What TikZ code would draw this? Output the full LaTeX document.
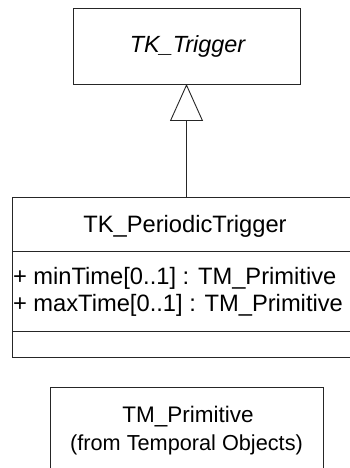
\documentclass[tikz,border=0pt]{standalone}
\usepackage{fontspec}
\setmainfont{Liberation Sans}
\usetikzlibrary{arrows.meta}
\begin{document}
\begin{tikzpicture}[x=1pt,y=-1pt,
  umlbox/.style={draw=black!85,line width=0.9pt,inner sep=0pt,outer sep=0pt},
  txt/.style={inner sep=0pt,outer sep=0pt},
  big/.style={font=\fontsize{23.7}{28}\selectfont},
  generalization/.style={draw=black!85,line width=0.9pt,
    -{Triangle[open,length=37pt,width=33pt,line width=0.9pt]}}]
\useasboundingbox (0,0) rectangle (350,468);
\clip (0,0) rectangle (350,468);
\fill[white] (0,0) rectangle (350,468);

% abstract parent class
\node[umlbox,minimum width=227pt,minimum height=76pt] (trigger) at (186.5,46) {};
\node[txt,font=\fontsize{23.4}{28}\selectfont\itshape] (triggername) at (187.5,46) {TK\_Trigger};

% subclass with three compartments
\node[umlbox,minimum width=349pt,minimum height=54pt] (periodic) at (186.5,224) {};
\node[txt,big] (periodicname) at (185,226) {TK\_PeriodicTrigger};
\node[umlbox,minimum width=349pt,minimum height=80pt,anchor=north] (attrs) at (periodic.south) {};
\node[txt,big,anchor=west] (attr1) at (13,278) {+ minTime[0..1] : TM\_Primitive};
\node[txt,big,anchor=west] (attr2) at (13,305) {+ maxTime[0..1] : TM\_Primitive};
\node[umlbox,minimum width=349pt,minimum height=26pt,anchor=north] (ops) at (attrs.south) {};

% referenced type
\node[umlbox,minimum width=273pt,minimum height=110pt,anchor=north] (primitive) at (186.5,387) {};
\node[txt,font=\fontsize{22.5}{26}\selectfont] (primname) at (188,417) {TM\_Primitive};
\node[txt,font=\fontsize{21.7}{25}\selectfont] (primpkg) at (186.5,445) {(from Temporal Objects)};

% inheritance
\draw[generalization] (periodic.north) -- (trigger.south);
\end{tikzpicture}
\end{document}
